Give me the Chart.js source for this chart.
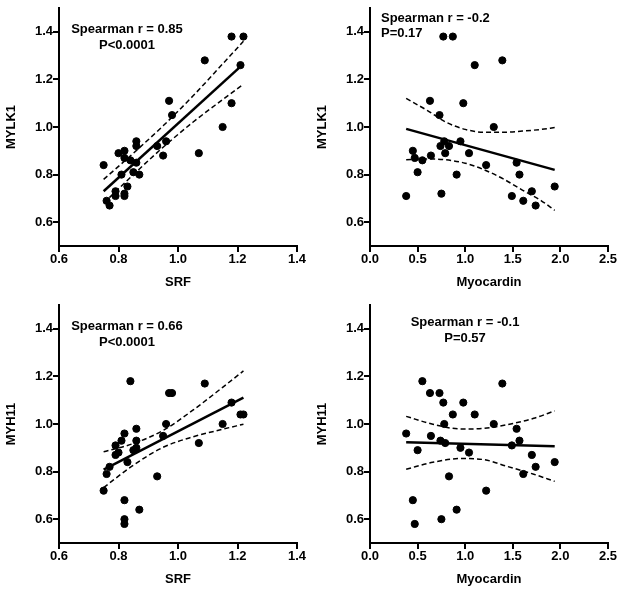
<!DOCTYPE html>
<html lang="en">
<head>
    <meta charset="UTF-8">
    <title>SRF / Myocardin correlations</title>
    <script src="https://cdn.jsdelivr.net/npm/chart.js"></script>
    <style>
        body {
            margin: 0;
            background: #fff;
        }
        .wrap {
            position: relative;
            width: 624px;
            height: 594px;
        }
        .wrap canvas {
            position: absolute;
        }
    </style>
</head>
<body>
    <div class="wrap">
        <canvas id="c1" width="312" height="297" style="left:0;top:0"></canvas>
        <canvas id="c2" width="312" height="297" style="left:311px;top:0"></canvas>
        <canvas id="c3" width="312" height="297" style="left:0;top:297px"></canvas>
        <canvas id="c4" width="312" height="297" style="left:311px;top:297px"></canvas>
    </div>
    <script>
        // SRF vs MYLK1
        var srfA = [0.75, 0.80, 0.82, 0.82, 0.84, 0.86, 0.86, 0.86, 0.85, 0.81, 0.87, 0.83, 0.79, 0.79, 0.82,
                    0.82, 0.76, 0.77, 0.93, 0.96, 0.95, 0.97, 0.98, 1.07, 1.09, 1.15, 1.18, 1.18, 1.21, 1.22];
        var mylk1A = [0.84, 0.89, 0.90, 0.87, 0.86, 0.94, 0.92, 0.85, 0.81, 0.80, 0.80, 0.75, 0.73, 0.71, 0.72,
                      0.71, 0.69, 0.67, 0.92, 0.94, 0.88, 1.11, 1.05, 0.89, 1.28, 1.00, 1.10, 1.38, 1.26, 1.38];

        // Myocardin vs MYLK1
        var myoA = [0.38, 0.45, 0.47, 0.50, 0.55, 0.63, 0.64, 0.73, 0.74, 0.75, 0.77, 0.78, 0.79, 0.83, 0.87,
                    0.91, 0.95, 0.98, 1.04, 1.10, 1.22, 1.30, 1.39, 1.49, 1.54, 1.57, 1.61, 1.70, 1.74, 1.94];
        var mylk1B = [0.71, 0.90, 0.87, 0.81, 0.86, 1.11, 0.88, 1.05, 0.92, 0.72, 1.38, 0.94, 0.89, 0.92, 1.38,
                      0.80, 0.94, 1.10, 0.89, 1.26, 0.84, 1.00, 1.28, 0.71, 0.85, 0.80, 0.69, 0.73, 0.67, 0.75];

        // SRF vs MYH11
        var srfB = [0.75, 0.76, 0.77, 0.79, 0.79, 0.80, 0.81, 0.82, 0.83, 0.84, 0.85, 0.86, 0.86, 0.86, 0.82,
                    0.82, 0.82, 0.87, 0.93, 0.95, 0.96, 0.97, 0.98, 1.07, 1.09, 1.15, 1.18, 1.21, 1.22];
        var myh11A = [0.72, 0.79, 0.82, 0.87, 0.91, 0.88, 0.93, 0.96, 0.84, 1.18, 0.89, 0.98, 0.93, 0.90, 0.68,
                      0.60, 0.58, 0.64, 0.78, 0.95, 1.00, 1.13, 1.13, 0.92, 1.17, 1.00, 1.09, 1.04, 1.04];

        // Myocardin vs MYH11
        var myoB = [0.38, 0.50, 0.45, 0.47, 0.55, 0.63, 0.64, 0.73, 0.74, 0.75, 0.77, 0.78, 0.79, 0.83, 0.87,
                    0.91, 0.95, 0.98, 1.04, 1.10, 1.22, 1.30, 1.39, 1.49, 1.54, 1.57, 1.61, 1.70, 1.74, 1.94];
        var myh11B = [0.96, 0.89, 0.68, 0.58, 1.18, 1.13, 0.95, 1.13, 0.93, 0.60, 1.09, 1.00, 0.92, 0.78, 1.04,
                      0.64, 0.90, 1.09, 0.88, 1.04, 0.72, 1.00, 1.17, 0.91, 0.98, 0.93, 0.79, 0.87, 0.82, 0.84];

        // regression lines (ends) and 95% bands
        var fitX1 = [0.75, 1.22], fitY1 = [0.730, 1.265];
        var bandX1 = [0.75, 0.85, 0.95, 1.05, 1.15, 1.22];
        var upper1 = [0.78, 0.89, 1.005, 1.13, 1.265, 1.36];
        var lower1 = [0.68, 0.80, 0.915, 1.02, 1.115, 1.18];

        var fitX2 = [0.38, 1.94], fitY2 = [0.992, 0.820];
        var bandX2 = [0.38, 0.6, 0.8, 1.0, 1.2, 1.4, 1.6, 1.8, 1.94];
        var upper2 = [1.12, 1.07, 1.02, 0.99, 0.978, 0.978, 0.983, 0.99, 0.998];
        var lower2 = [0.862, 0.866, 0.862, 0.848, 0.82, 0.782, 0.735, 0.69, 0.65];

        var fitX3 = [0.75, 1.22], fitY3 = [0.808, 1.111];
        var bandX3 = [0.75, 0.85, 0.95, 1.05, 1.15, 1.22];
        var upper3 = [0.883, 0.918, 0.973, 1.058, 1.154, 1.223];
        var lower3 = [0.733, 0.827, 0.902, 0.946, 0.978, 0.999];

        var fitX4 = [0.38, 1.94], fitY4 = [0.923, 0.906];
        var bandX4 = [0.38, 0.66, 0.96, 1.2, 1.44, 1.72, 1.94];
        var upper4 = [1.032, 0.999, 0.979, 0.982, 0.997, 1.024, 1.055];
        var lower4 = [0.81, 0.839, 0.855, 0.85, 0.822, 0.789, 0.759];

        var yTicks = [0.6, 0.8, 1.0, 1.2, 1.4];

        var FONT = '"Liberation Sans", Arial, sans-serif';

        function pts(xs, ys) {
            return xs.map(function(x, i) { return {x: x, y: ys[i]}; });
        }

        function makeChart(id, opt) {
            var ctx = document.getElementById(id).getContext('2d');
            var axisFont = {family: FONT, size: 13, weight: 'bold'};
            var tickGrid = {
                drawOnChartArea: false,
                drawTicks: true,
                tickLength: 6,
                color: '#000',
                lineWidth: 2
            };
            return new Chart(ctx, {
                type: 'scatter',
                data: {
                    datasets: [
                        {
                            data: pts(opt.xs, opt.ys),
                            backgroundColor: '#000',
                            borderColor: '#000',
                            pointRadius: 3.6,
                            pointHoverRadius: 3.6
                        },
                        {
                            data: pts(opt.fitX, opt.fitY),
                            showLine: true,
                            borderColor: '#000',
                            borderWidth: 2.5,
                            pointRadius: 0
                        },
                        {
                            data: pts(opt.bandX, opt.upper),
                            showLine: true,
                            borderColor: '#000',
                            borderWidth: 1.5,
                            borderDash: [5, 3],
                            cubicInterpolationMode: 'monotone',
                            pointRadius: 0
                        },
                        {
                            data: pts(opt.bandX, opt.lower),
                            showLine: true,
                            borderColor: '#000',
                            borderWidth: 1.5,
                            borderDash: [5, 3],
                            cubicInterpolationMode: 'monotone',
                            pointRadius: 0
                        }
                    ]
                },
                options: {
                    responsive: false,
                    animation: false,
                    events: [],
                    layout: {
                        padding: {top: 8, left: 0, right: 15, bottom: 7}
                    },
                    scales: {
                        x: {
                            type: 'linear',
                            min: opt.xMin,
                            max: opt.xMax,
                            ticks: {
                                stepSize: opt.xStep,
                                color: '#000',
                                font: axisFont,
                                padding: 0,
                                maxRotation: 0,
                                callback: function(v) { return v.toFixed(1); }
                            },
                            grid: tickGrid,
                            border: {display: true, color: '#000', width: 2},
                            title: {
                                display: true,
                                text: opt.xTitle,
                                color: '#000',
                                font: axisFont,
                                padding: {top: 0, bottom: 0}
                            },
                            afterFit: function(s) { s.height = 44; }
                        },
                        y: {
                            type: 'linear',
                            min: 0.5,
                            max: 1.5,
                            afterBuildTicks: function(s) {
                                s.ticks = yTicks.map(function(v) { return {value: v}; });
                            },
                            ticks: {
                                color: '#000',
                                font: axisFont,
                                padding: 0,
                                callback: function(v) { return v.toFixed(1); }
                            },
                            grid: tickGrid,
                            border: {display: true, color: '#000', width: 2},
                            title: {
                                display: true,
                                text: opt.yTitle,
                                color: '#000',
                                font: axisFont,
                                padding: {top: 4, bottom: 0}
                            },
                            afterFit: function(s) { s.width = 59; }
                        }
                    },
                    plugins: {
                        legend: {display: false},
                        tooltip: {enabled: false}
                    }
                },
                plugins: [{
                    id: 'stats',
                    afterDraw: function(chart) {
                        var c = chart.ctx;
                        var area = chart.chartArea;
                        c.save();
                        c.fillStyle = '#000';
                        c.font = 'bold 13px ' + FONT;
                        c.textAlign = opt.align;
                        c.textBaseline = 'middle';
                        c.fillText(opt.line1, area.left + opt.tx, area.top + opt.ty1);
                        c.fillText(opt.line2, area.left + opt.tx, area.top + opt.ty2);
                        c.restore();
                    }
                }]
            });
        }

        makeChart('c1', {
            xs: srfA, ys: mylk1A, fitX: fitX1, fitY: fitY1,
            bandX: bandX1, upper: upper1, lower: lower1,
            xMin: 0.6, xMax: 1.4, xStep: 0.2, xTitle: 'SRF', yTitle: 'MYLK1',
            line1: 'Spearman r = 0.85', line2: 'P<0.0001',
            align: 'center', tx: 68, ty1: 21, ty2: 37
        });

        makeChart('c2', {
            xs: myoA, ys: mylk1B, fitX: fitX2, fitY: fitY2,
            bandX: bandX2, upper: upper2, lower: lower2,
            xMin: 0, xMax: 2.5, xStep: 0.5, xTitle: 'Myocardin', yTitle: 'MYLK1',
            line1: 'Spearman r = -0.2', line2: 'P=0.17',
            align: 'left', tx: 11, ty1: 10, ty2: 25
        });

        makeChart('c3', {
            xs: srfB, ys: myh11A, fitX: fitX3, fitY: fitY3,
            bandX: bandX3, upper: upper3, lower: lower3,
            xMin: 0.6, xMax: 1.4, xStep: 0.2, xTitle: 'SRF', yTitle: 'MYH11',
            line1: 'Spearman r = 0.66', line2: 'P<0.0001',
            align: 'center', tx: 68, ty1: 21, ty2: 37
        });

        makeChart('c4', {
            xs: myoB, ys: myh11B, fitX: fitX4, fitY: fitY4,
            bandX: bandX4, upper: upper4, lower: lower4,
            xMin: 0, xMax: 2.5, xStep: 0.5, xTitle: 'Myocardin', yTitle: 'MYH11',
            line1: 'Spearman r = -0.1', line2: 'P=0.57',
            align: 'center', tx: 95, ty1: 17, ty2: 33
        });
    </script>
</body>
</html>
